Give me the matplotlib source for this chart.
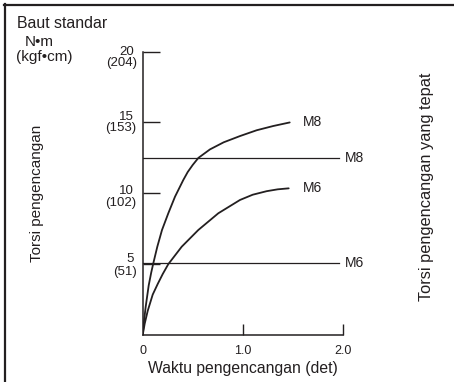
import matplotlib
matplotlib.use("Agg")
import matplotlib.pyplot as plt
from matplotlib.lines import Line2D

plt.rcParams['font.family'] = ['Liberation Sans', 'DejaVu Sans']

# Data
m8_time = [0.0, 0.01, 0.03, 0.06, 0.085, 0.106, 0.146, 0.193, 0.256, 0.323,
           0.406, 0.45, 0.50, 0.557, 0.673, 0.81, 0.973, 1.14, 1.306, 1.47]
m8_torque = [0.0, 0.8, 2.0, 3.5, 4.4, 5.06, 6.23, 7.41, 8.59, 9.76,
             10.94, 11.5, 12.0, 12.5, 13.1, 13.6, 14.04, 14.45, 14.75, 15.0]
m6_time = [0.0, 0.02, 0.05, 0.1, 0.15, 0.2, 0.256, 0.39, 0.556, 0.756, 0.973,
           1.1, 1.24, 1.35, 1.46]
m6_torque = [0.0, 0.8, 1.7, 2.85, 3.6, 4.3, 5.0, 6.23, 7.41, 8.59, 9.53,
             9.9, 10.15, 10.28, 10.35]
proper_m8 = 12.5
proper_m6 = 5.08
line_end = 1.96
y_ticks = [5, 10, 15, 20]
y_tick_nm = ["5", "10", "15", "20"]
y_tick_kgf = ["(51)", "(102)", "(153)", "(204)"]
x_ticks = [0, 1.0, 2.0]
x_tick_labels = ["0", "1.0", "2.0"]

# label placement (pixel offsets from each tick)
nm_dy = [4.9, 1.9, 5.4, 0.0]
kgf_dy = [-7.6, -10.1, -5.6, -11.6]

W, H = 454, 382
fig = plt.figure(figsize=(W / 100, H / 100), dpi=100)
ax = fig.add_axes([142.7 / W, 47 / H, 200 / W, 283.4 / H])
ax.set_xlim(0, 2.0)
ax.set_ylim(0, 20)

ink = '#231f20'
for s in ['top', 'right']:
    ax.spines[s].set_visible(False)
for s in ['left', 'bottom']:
    ax.spines[s].set_color(ink)
    ax.spines[s].set_linewidth(1.1)

ax.plot(m8_time, m8_torque, color=ink, lw=1.3, solid_capstyle='round', solid_joinstyle='round')
ax.plot(m6_time, m6_torque, color=ink, lw=1.3, solid_capstyle='round', solid_joinstyle='round')
ax.plot([0, line_end], [proper_m8, proper_m8], color=ink, lw=0.9)
ax.plot([0, line_end], [proper_m6, proper_m6], color=ink, lw=0.9)

ax.set_yticks(y_ticks)
ax.set_yticklabels([])
ax.tick_params(axis='y', direction='in', length=12, width=1.0, color=ink)
ax.set_xticks(x_ticks)
ax.set_xticklabels(x_tick_labels, fontsize=9, color=ink)
ax.tick_params(axis='x', direction='in', length=8, width=1.0, color=ink, pad=7)
ax.xaxis.get_major_ticks()[0].tick1line.set_visible(False)

for v, a, b, da, db in zip(y_ticks, y_tick_nm, y_tick_kgf, nm_dy, kgf_dy):
    ax.annotate(a, (0, v), xytext=(-9, da), textcoords='offset pixels',
                ha='right', va='center', fontsize=9.5, color=ink, annotation_clip=False)
    ax.annotate(b, (0, v), xytext=(-6, db), textcoords='offset pixels',
                ha='right', va='center', fontsize=9.5, color=ink, annotation_clip=False)

ax.text(m8_time[-1] + 0.13, m8_torque[-1] + 0.05, "M8", fontsize=10, color=ink, va='center', clip_on=False)
ax.text(m6_time[-1] + 0.14, m6_torque[-1] + 0.05, "M6", fontsize=10, color=ink, va='center', clip_on=False)
ax.text(line_end + 0.06, proper_m8, "M8", fontsize=10, color=ink, va='center', clip_on=False)
ax.text(line_end + 0.06, proper_m6, "M6", fontsize=10, color=ink, va='center', clip_on=False)

fig.text(243 / W, 1 - 369 / H, "Waktu pengencangan (det)", ha='center', va='center', fontsize=11.3, color=ink)
fig.text(37 / W, 1 - 193 / H, "Torsi pengencangan", rotation=90, ha='center', va='center', fontsize=11, color=ink)
fig.text(427 / W, 1 - 187 / H, "Torsi pengencangan yang tepat", rotation=90, ha='center', va='center', fontsize=11.8, color=ink)
fig.text(17 / W, 1 - 24 / H, "Baut standar", ha='left', va='center', fontsize=11.4, color=ink)
fig.text(39 / W, 1 - 42 / H, "N•m", ha='center', va='center', fontsize=11, color=ink)
fig.text(44 / W, 1 - 57.5 / H, "(kgf•cm)", ha='center', va='center', fontsize=11, color=ink)

fig.add_artist(Line2D([4 / W, 1], [1 - 5 / H, 1 - 5 / H], transform=fig.transFigure, color=ink, lw=1.6))
fig.add_artist(Line2D([5 / W, 5 / W], [0, 1 - 4 / H], transform=fig.transFigure, color=ink, lw=1.6))

fig.savefig("out.png", dpi=100)
